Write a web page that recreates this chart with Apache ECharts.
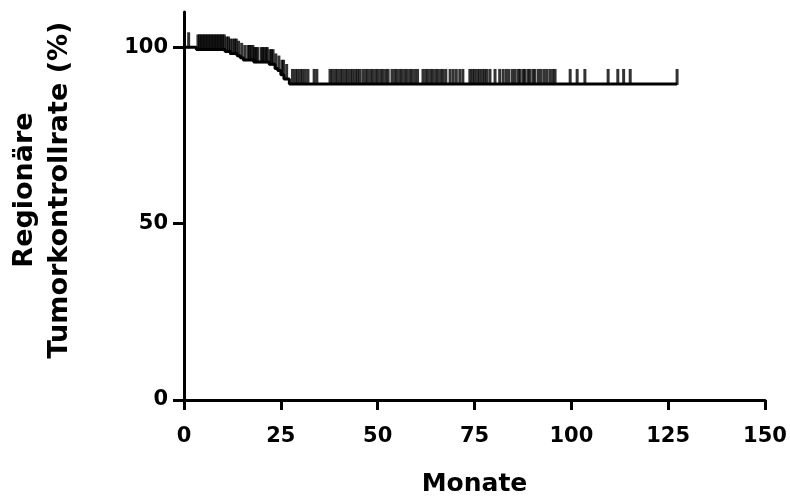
<!DOCTYPE html>
<html>
<head>
<meta charset="utf-8">
<script src="https://cdn.jsdelivr.net/npm/echarts@6/dist/echarts.min.js"></script>
<style>
  html, body { margin: 0; padding: 0; background: #fff; }
  #chart { width: 790px; height: 500px; }
</style>
</head>
<body>
<div id="chart"></div>
<script>
// Kaplan-Meier estimate: times (months) where the curve drops, and the rate after each drop (%)
const stepTimes = [0, 3.2, 10.6, 12.0, 13.7, 14.5, 15.3, 18.0, 22.0, 23.5, 24.2, 25.0, 25.8, 27.2];
const stepSurv  = [100, 99.4, 98.8, 98.2, 97.6, 97.0, 96.4, 95.8, 95.2, 94.0, 93.4, 92.2, 91.0, 89.6];

// Censored observations (months)
const censorTimes = [
  1.2, 3.6, 4.0, 4.4, 4.8, 5.2, 5.6, 6.0, 6.4, 6.8, 7.2, 7.6, 8.0, 8.4, 8.8, 9.2, 9.6, 10.0, 10.4,
  11.0, 11.5, 12.0, 12.6, 13.1, 13.5, 14.1, 14.9, 15.7, 16.5, 16.9, 17.3, 17.8, 18.2, 18.6, 19.0,
  19.9, 20.3, 20.7, 21.2, 21.5, 22.2, 22.6, 23.0, 23.7, 24.5, 25.3, 25.7, 26.5,
  28.0, 28.7, 29.3, 30.0, 30.6, 31.3, 32.0, 33.6, 34.3,
  37.7, 38.3, 39.0, 39.6, 40.3, 40.9, 41.6, 42.2, 42.9, 43.5, 44.2, 44.8, 45.4,
  46.2, 46.9, 47.5, 48.2, 48.8, 49.5, 50.1, 50.8, 51.4, 52.1, 52.7,
  53.7, 54.4, 55.0, 55.7, 56.3, 57.0, 57.6, 58.3, 58.9, 59.6, 60.3,
  61.7, 62.4, 63.0, 63.7, 64.3, 65.0, 65.6, 66.3, 66.9, 67.6,
  68.7, 69.5, 70.3, 71.2, 72.0, 73.8, 74.4, 75.0, 75.7, 76.3, 77.0, 77.6, 78.2,
  79.0, 80.3, 81.5, 82.4, 83.2, 83.9, 84.8, 85.5, 86.3, 86.8, 87.6, 88.0, 88.8, 89.3,
  90.1, 90.6, 91.5, 92.2, 93.0, 93.7, 94.5, 95.2, 95.8,
  99.7, 101.5, 103.5, 109.5, 112.0, 113.5, 115.2, 127.3
];

const xTicks = [0, 25, 50, 75, 100, 125, 150];
const yTicks = [0, 50, 100];

// rate at time t from the step function
function survAt(t) {
  let s = stepSurv[0];
  for (let i = 0; i < stepTimes.length; i++) {
    if (stepTimes[i] <= t) s = stepSurv[i];
  }
  return s;
}

const lastTime = Math.max(...censorTimes);
const curve = stepTimes.map((t, i) => [t, stepSurv[i]]);
curve.push([lastTime, survAt(lastTime)]);

const ticks = censorTimes.map(t => [t, survAt(t)]);

const FONT = 'DejaVu Sans';
const chart = echarts.init(document.getElementById('chart'), null, { renderer: 'canvas' });

chart.setOption({
  animation: false,
  backgroundColor: '#ffffff',
  grid: { left: 184, right: 25, top: 12, bottom: 100, containLabel: false, outerBoundsMode: 'none' },
  xAxis: {
    type: 'value',
    min: 0, max: 150, interval: 25,
    name: 'Monate',
    nameLocation: 'middle',
    nameGap: 72,
    nameTextStyle: { fontFamily: FONT, fontWeight: 'bold', fontSize: 25, color: '#000' },
    axisLine: { onZero: false, lineStyle: { color: '#000', width: 3 } },
    axisTick: { show: true, inside: false, length: 10, lineStyle: { color: '#000', width: 3 }, customValues: xTicks },
    axisLabel: { fontFamily: FONT, fontWeight: 'bold', fontSize: 21, color: '#000', margin: 26, customValues: xTicks },
    splitLine: { show: false }
  },
  yAxis: {
    type: 'value',
    min: 0, max: 110,
    axisLine: { onZero: false, lineStyle: { color: '#000', width: 3 } },
    axisTick: { show: true, inside: false, length: 11, lineStyle: { color: '#000', width: 3 }, customValues: yTicks },
    axisLabel: { fontFamily: FONT, fontWeight: 'bold', fontSize: 21, color: '#000', margin: 16, customValues: yTicks },
    splitLine: { show: false }
  },
  graphic: [{
    type: 'text',
    x: 42, y: 190,
    rotation: Math.PI / 2,
    style: {
      text: 'Regionäre\nTumorkontrollrate (%)',
      font: 'bold 27px "DejaVu Sans"',
      fill: '#000',
      align: 'center',
      verticalAlign: 'middle',
      lineHeight: 35
    }
  }],
  series: [
    {
      type: 'line',
      step: 'end',
      data: curve,
      showSymbol: false,
      lineStyle: { color: '#000', width: 3 },
      z: 2
    },
    {
      type: 'scatter',
      data: ticks,
      symbol: 'rect',
      symbolSize: [3, 16],
      symbolOffset: [0, -7],
      itemStyle: { color: '#000' },
      z: 3
    }
  ]
});
</script>
</body>
</html>
